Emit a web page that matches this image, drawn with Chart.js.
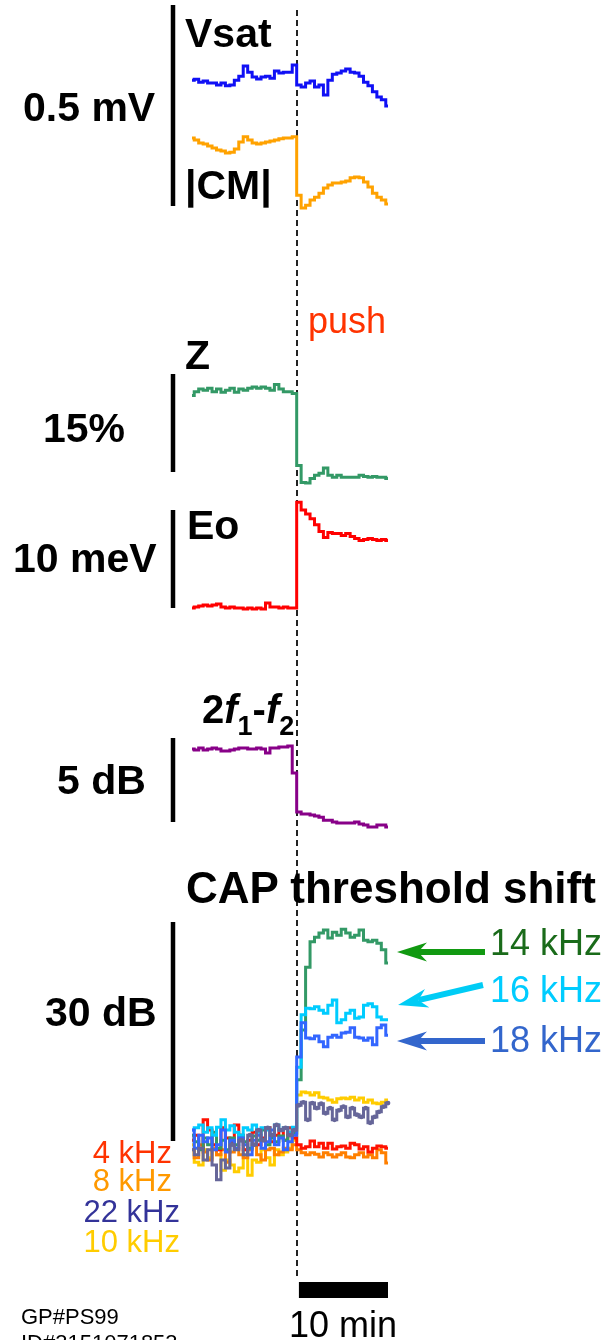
<!DOCTYPE html>
<html lang="en">
<head>
<meta charset="UTF-8">
<title>Cochlear responses to a push</title>
<script src="https://cdn.jsdelivr.net/npm/chart.js"></script>
<style>
  body { margin: 0; background: #fff; font-family: 'Liberation Sans', Arial, sans-serif; }
  #fig { position: relative; width: 616px; height: 1340px; overflow: hidden; }
  #fig canvas { position: absolute; left: 0; }
  .t { position: absolute; line-height: 1; white-space: nowrap; }
  .b { font-weight: bold; font-size: 41px; color: #000; }
  .k { font-size: 36px; }
  .s { font-size: 31px; text-align: right; }
  .sub { font-size: 27px; position: relative; top: 12px; }
  /* dashed marker at the moment of the push */
  #push-line {
    position: absolute; left: 296px; top: 10px; width: 1.6px; height: 1266px;
    background: repeating-linear-gradient(to bottom, #222 0 6px, transparent 6px 10px);
  }
</style>
</head>
<body>
<div id="fig">
  <div id="push-line"></div>
  <canvas id="cAC"></canvas>
  <canvas id="cZ"></canvas>
  <canvas id="cEo"></canvas>
  <canvas id="cDP"></canvas>
  <canvas id="cCAP"></canvas>
  <svg id="arrows" width="616" height="1340" style="position:absolute;left:0;top:0"></svg>

  <div class="t b" style="left:185px;top:13px">Vsat</div>
  <div class="t b" style="left:185px;top:165px">|CM|</div>
  <div class="t b" style="left:23px;top:87px">0.5 mV</div>
  <div class="t" style="left:308px;top:303px;font-size:36px;color:#ff3300">push</div>
  <div class="t b" style="left:185px;top:335px">Z</div>
  <div class="t b" style="left:43px;top:408px">15%</div>
  <div class="t b" style="left:187px;top:505px">Eo</div>
  <div class="t b" style="left:13px;top:538px">10 meV</div>
  <div class="t" style="left:202px;top:689px;font-weight:bold;font-size:40px">2<i>f</i><span class="sub">1</span>-<i>f</i><span class="sub">2</span></div>
  <div class="t b" style="left:57px;top:760px">5 dB</div>
  <div class="t b" style="left:186px;top:866px;font-size:44px">CAP threshold shift</div>
  <div class="t b" style="left:45px;top:992px">30 dB</div>

  <div class="t k" style="left:490px;top:925px;color:#1a6b1a">14 kHz</div>
  <div class="t k" style="left:490px;top:972px;color:#00ccff">16 kHz</div>
  <div class="t k" style="left:490px;top:1022px;color:#3366cc">18 kHz</div>

  <div class="t s" style="right:444px;top:1137px;color:#ff3300">4 kHz</div>
  <div class="t s" style="right:444px;top:1165px;color:#ff9900">8 kHz</div>
  <div class="t s" style="right:436px;top:1196px;color:#333399">22 kHz</div>
  <div class="t s" style="right:436px;top:1226px;color:#ffcc00">10 kHz</div>

  <div class="t" style="left:21px;top:1306px;font-size:22px">GP#PS99</div>
  <div class="t" style="left:21px;top:1332px;font-size:22px">ID#3151071853</div>
  <div class="t" style="left:289px;top:1307px;font-size:36px">10 min</div>
</div>

<script>
// time relative to the push, minutes
const minutes = [-11.8, -11.3, -10.8, -10.3, -9.8, -9.3, -8.8, -8.3, -7.8, -7.3, -6.8, -6.3,
  -5.8, -5.3, -4.8, -4.3, -3.8, -3.3, -2.8, -2.3, -1.8, -1.3, -0.8, -0.3,
  0.2, 0.7, 1.2, 1.7, 2.2, 2.7, 3.2, 3.7, 4.2, 4.7, 5.2, 5.7, 6.2, 6.7, 7.2, 7.7, 8.2, 8.7, 9.2, 9.7, 10.2];

// saturated summating potential and CM amplitude, mV
const vsat = [0.313, 0.315, 0.308, 0.311, 0.306, 0.306, 0.301, 0.306, 0.299, 0.301, 0.313, 0.323,
  0.348, 0.333, 0.321, 0.316, 0.321, 0.323, 0.318, 0.336, 0.331, 0.333, 0.333, 0.351,
  0.301, 0.296, 0.306, 0.311, 0.296, 0.301, 0.276, 0.313, 0.328, 0.331, 0.336, 0.341,
  0.333, 0.331, 0.323, 0.308, 0.299, 0.284, 0.271, 0.264, 0.249];
const cm = [0.169, 0.164, 0.157, 0.154, 0.149, 0.144, 0.139, 0.137, 0.132, 0.134, 0.142, 0.159,
  0.172, 0.164, 0.157, 0.154, 0.157, 0.159, 0.162, 0.164, 0.167, 0.169, 0.169, 0.172,
  0.027, -0.005, 0.002, 0.015, 0.022, 0.032, 0.045, 0.052, 0.057, 0.057, 0.060, 0.062,
  0.070, 0.072, 0.070, 0.060, 0.047, 0.032, 0.022, 0.015, 0.005];

// impedance change, %
const impedance = [-0.8, -0.2, 0.2, 0, 0.3, -0.2, 0.2, -0.3, 0, 0.3, -0.3, 0.2,
  0, 0.3, 0.5, 0.3, 0.5, 0.3, 0, 0.9, 0.2, -0.2, -0.2, -0.5,
  -11.5, -14.1, -14.2, -13.5, -13.0, -12.7, -11.9, -13.0, -13.3, -13.0, -13.3, -13.3,
  -13.3, -13.3, -13.0, -13.2, -13.3, -13.2, -13.3, -13.3, -13.5];

// operating point Eo, meV
const eo = [0, 0.1, 0.2, 0.3, 0.2, 0.3, 0.4, 0.1, 0, 0.1, 0, 0,
  -0.1, 0, -0.1, 0, -0.1, 0.5, 0.1, 0.1, 0, 0.1, 0, 0,
  10.8, 10.0, 9.6, 9.1, 8.5, 7.8, 7.2, 7.7, 7.6, 7.6, 7.4, 7.6,
  7.3, 7.1, 6.9, 7.0, 7.1, 7.0, 6.9, 7.0, 6.9];

// 2f1-f2 distortion product, dB
const dp = [-0.06, -0.12, 0, -0.12, -0.06, 0, -0.06, -0.18, -0.18, -0.12, -0.06, 0,
  0, -0.06, -0.06, 0, -0.06, -0.30, 0, 0, 0.06, 0.06, 0.12, -1.49,
  -3.81, -3.93, -3.93, -3.99, -4.05, -4.11, -4.29, -4.29, -4.40, -4.46, -4.46, -4.46,
  -4.46, -4.40, -4.52, -4.58, -4.70, -4.70, -4.58, -4.58, -4.70];

// CAP threshold shift per probe frequency, dB
const cap4k = [0.1, 0.8, -1.0, 2.9, 1.5, -0.5, -1.2, 1.8, 0.4, -0.1, 2.2, 0.8,
  -1.2, 0.1, 1.2, -0.5, 0.4, 1.8, -0.1, 0.8, 1.5, 0.1, 1.8, 0.4,
  -0.5, -1.0, -0.8, 0, -0.8, -0.3, -1.0, -0.3, -1.1, -0.8, -0.7, -1.0,
  -0.3, -0.5, -1.1, -0.8, -1.5, -1.0, -0.7, -0.8, -1.0];
const cap8k = [-1.2, -2.3, -0.5, -1.5, -2.6, -1.0, -1.9, -1.2, -2.9, -1.5, -1.0, -1.9,
  -2.3, -1.2, -0.5, -1.9, -2.6, -1.2, -1.0, -1.9, -1.5, -1.0, -1.2, -0.5,
  -1.2, -1.6, -1.9, -1.6, -1.8, -2.2, -1.6, -1.9, -2.2, -1.9, -1.6, -2.2,
  -2.3, -1.9, -1.6, -2.2, -1.9, -2.3, -1.2, -1.6, -3.0];
const cap10k = [-0.5, -2.9, -3.3, -1.2, -2.3, -1.0, -1.9, -4.0, -2.6, -3.3, -4.2, -3.7,
  -1.2, -4.7, -2.6, -2.9, -1.2, -2.3, -3.3, -1.2, -1.9, -1.5, -1.0, 0.1,
  6.3, 6.7, 6.6, 6.3, 6.6, 6.0, 5.9, 5.6, 5.3, 5.8, 5.9, 5.8,
  6.0, 5.6, 5.9, 5.3, 5.6, 5.2, 5.1, 5.3, 5.6];
const cap14k = [0.8, -0.1, -1.2, 0.4, -0.5, 1.2, -1.0, 0.1, -1.2, 0.4, -0.5, 0.8,
  -0.1, -1.0, 0.7, 0.1, 1.5, -0.5, 0.4, -0.1, 0.7, 0.1, 0.8, 1.1,
  8.4, 15.2, 23.8, 27.3, 27.9, 28.5, 28.9, 27.8, 28.6, 28.2, 29.0, 28.5,
  27.9, 28.2, 28.9, 27.5, 27.3, 27.5, 27.1, 26.2, 24.4];
const cap16k = [1.5, 1.8, 2.2, 1.2, 1.8, 0.8, 1.9, 2.9, 1.5, 2.1, 1.2, 0.8,
  1.8, 1.5, 2.2, 1.2, 1.8, 1.5, 0.8, 2.2, 1.5, 1.8, 1.2, 1.9,
  10.1, 17.3, 18.2, 18.1, 18.4, 17.9, 17.5, 18.6, 19.3, 16.2, 16.6, 17.5,
  17.9, 16.8, 17.0, 18.6, 18.8, 18.4, 17.0, 16.6, 16.6];
const cap18k = [1.5, -1.0, 0.8, -0.1, 0.4, -1.2, -0.5, 1.5, -1.5, 0.1, -1.0, 0.4,
  -0.5, -1.9, 0.1, 0.8, -1.0, -0.1, 1.5, -0.5, 0.4, -1.2, -0.1, 0.8,
  11.5, 16.2, 14.1, 14.0, 14.4, 13.6, 12.9, 14.2, 14.5, 14.2, 14.8, 14.9,
  15.5, 14.2, 14.1, 13.8, 14.1, 13.2, 15.5, 15.9, 14.5];
const cap22k = [-1.2, -1.9, -1.0, -2.6, -1.2, -3.3, -5.3, -2.6, -3.7, -0.5, -1.2, 0.1,
  -1.9, 0.8, -0.5, 1.5, 0.1, 1.8, 0.8, 2.2, 1.5, 1.8, 0.8, 1.5,
  4.9, 5.3, 2.9, 5.2, 4.5, 5.1, 3.8, 4.5, 2.9, 4.2, 4.7, 3.3,
  4.5, 3.6, 3.3, 4.5, 2.5, 3.3, 4.0, 4.7, 5.2];

// vertical scale bar to the left of each panel, spanning the y axis range
const scaleBar = {
  id: 'scaleBar',
  afterDatasetsDraw(chart) {
    const y = chart.scales.y, ctx = chart.ctx;
    ctx.save();
    ctx.strokeStyle = '#000';
    ctx.lineWidth = 4.5;
    ctx.beginPath();
    ctx.moveTo(173, y.getPixelForValue(y.max));
    ctx.lineTo(173, y.getPixelForValue(y.min));
    ctx.stroke();
    ctx.restore();
  }
};

// horizontal time bar under the CAP panel
const timeBar = {
  id: 'timeBar',
  afterDatasetsDraw(chart, args, opts) {
    const x = chart.scales.x, ctx = chart.ctx;
    const x0 = x.getPixelForValue(opts.from), x1 = x.getPixelForValue(opts.to);
    ctx.save();
    ctx.fillStyle = '#000';
    ctx.fillRect(x0, opts.top, x1 - x0, opts.height);
    ctx.restore();
  }
};

function panel(id, top, height, barTop, barBottom, yMin, ySpan, series, extra) {
  const cv = document.getElementById(id);
  cv.width = 616;
  cv.height = height;
  cv.style.top = top + 'px';
  const plugins = [scaleBar];
  if (extra) plugins.push(timeBar);
  return new Chart(cv, {
    type: 'line',
    data: {
      datasets: series.map(s => ({
        label: s.label,
        data: minutes.map((t, i) => ({ x: t, y: s.values[i] })),
        borderColor: s.color,
        borderWidth: 3,
        pointRadius: s.dots ? 2.4 : 0,
        pointBackgroundColor: s.color,
        pointBorderWidth: 0,
        stepped: 'middle',
        fill: false,
        clip: false
      }))
    },
    options: {
      responsive: false,
      animation: false,
      events: [],
      layout: { padding: { left: 192, right: 228, top: barTop - top, bottom: top + height - barBottom } },
      scales: {
        x: { type: 'linear', display: false, min: -11.8, max: 10.2 },
        y: { display: false, min: yMin, max: yMin + ySpan }
      },
      plugins: {
        legend: { display: false },
        tooltip: { enabled: false },
        timeBar: extra || {}
      }
    },
    plugins: plugins
  });
}

panel('cAC', 0, 230, 5, 206, 0, 0.5, [
  { label: 'Vsat', values: vsat, color: '#1010f5' },
  { label: '|CM|', values: cm, color: '#ffa200' }
]);
panel('cZ', 340, 160, 374, 472, -12.5, 15, [
  { label: 'Z', values: impedance, color: '#339966' }
]);
panel('cEo', 490, 130, 510, 608, 0, 10, [
  { label: 'Eo', values: eo, color: '#ff0000' }
]);
panel('cDP', 720, 120, 738, 822, -4.4, 5, [
  { label: '2f1-f2', values: dp, color: '#880088' }
]);
panel('cCAP', 900, 400, 922, 1141, 0, 30, [
  { label: '22 kHz', values: cap22k, color: '#666699', dots: true },
  { label: '18 kHz', values: cap18k, color: '#3366ff' },
  { label: '16 kHz', values: cap16k, color: '#00ccff' },
  { label: '14 kHz', values: cap14k, color: '#339966' },
  { label: '4 kHz', values: cap4k, color: '#ff1100' },
  { label: '8 kHz', values: cap8k, color: '#ff7f00' },
  { label: '10 kHz', values: cap10k, color: '#ffcc00' }
], { from: 0.2, to: 10.2, top: 382, height: 16 });

// pointer arrows from the frequency labels to the end of each raised trace
const svg = document.getElementById('arrows');
function arrow(x1, y1, x2, y2, color) {
  const dx = x2 - x1, dy = y2 - y1, len = Math.hypot(dx, dy);
  const ux = dx / len, uy = dy / len, px = -uy, py = ux;
  const bx = x2 - ux * 30, by = y2 - uy * 30;
  const nx = x2 - ux * 21, ny = y2 - uy * 21;
  const ns = 'http://www.w3.org/2000/svg';
  const line = document.createElementNS(ns, 'line');
  line.setAttribute('x1', x1); line.setAttribute('y1', y1);
  line.setAttribute('x2', nx); line.setAttribute('y2', ny);
  line.setAttribute('stroke', color); line.setAttribute('stroke-width', 6);
  svg.appendChild(line);
  const head = document.createElementNS(ns, 'polygon');
  head.setAttribute('points', [
    [x2, y2], [bx + px * 9.5, by + py * 9.5], [nx, ny], [bx - px * 9.5, by - py * 9.5]
  ].map(p => p.join(',')).join(' '));
  head.setAttribute('fill', color);
  svg.appendChild(head);
}
arrow(485, 952, 397, 952, '#119911');
arrow(483, 985, 398, 1005, '#00ccf5');
arrow(485, 1041, 397, 1041, '#3366cc');
</script>
</body>
</html>
